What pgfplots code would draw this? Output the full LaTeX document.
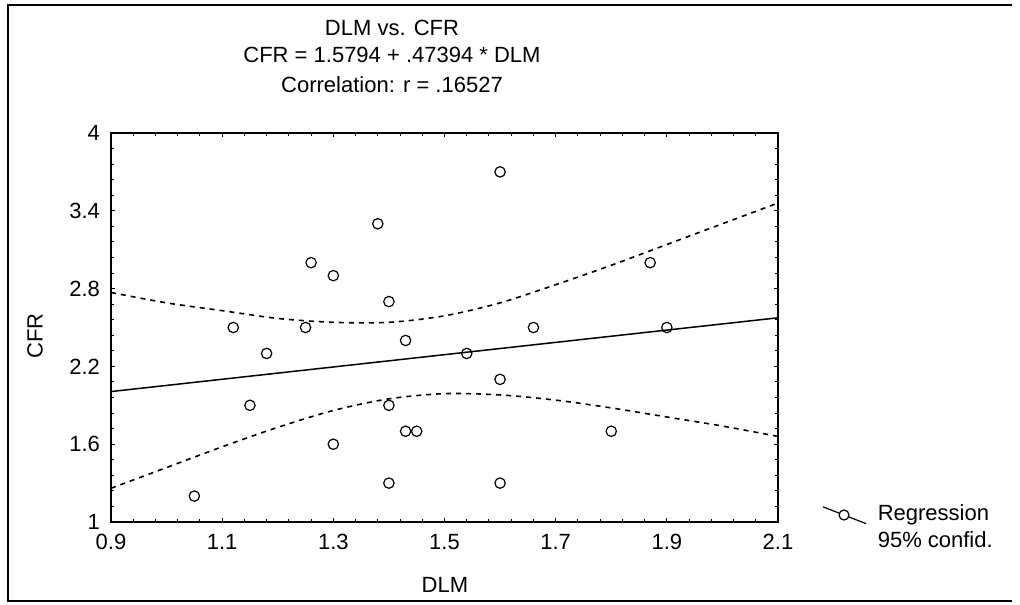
\documentclass[border=0pt]{standalone}
\usepackage{pgfplots}
\pgfplotsset{compat=1.18}
\usepackage{fontspec}
\setmainfont{Liberation Sans}

% scatter data
\pgfplotstableread{
x y
1.05 1.20
1.12 2.50
1.15 1.90
1.18 2.30
1.25 2.50
1.26 3.00
1.30 2.90
1.30 1.60
1.38 3.30
1.40 2.70
1.40 1.90
1.40 1.30
1.43 2.40
1.43 1.70
1.45 1.70
1.54 2.30
1.60 3.70
1.60 2.10
1.60 1.30
1.66 2.50
1.80 1.70
1.87 3.00
1.90 2.50
}\pts

\begin{document}
\begin{tikzpicture}[font=\fontsize{11}{13}\selectfont]
\begin{axis}[
  scale only axis,
  width=333.5pt, height=194.5pt,
  xmin=0.9, xmax=2.1, ymin=1, ymax=4,
  xtick={0.9,1.1,1.3,1.5,1.7,1.9,2.1},
  ytick={1,1.6,2.2,2.8,3.4,4},
  minor tick num=4,
  tick align=inside,
  major tick length=2pt, minor tick length=1.5pt,
  axis line style={line width=0.75pt},
  tick style={line width=0.5pt, black},
  /pgf/number format/assume math mode=true,
  xticklabel style={yshift=-2.5pt},
  yticklabel style={xshift=-2pt},
  xlabel={DLM}, ylabel={CFR},
  xlabel style={at={(axis description cs:0.5007,-0.18)}, anchor=base},
  ylabel style={at={(axis description cs:-0.114,0.478)}, anchor=center},
  clip=false,
  legend style={draw=none, fill=none, inner sep=0pt, row sep=2pt,
    at={(axis description cs:1.066,0.05)}, anchor=north west,
    nodes={inner sep=1pt, anchor=west}},
  legend cell align=left,
]
% regression line CFR = 1.5794 + .47394 * DLM
\addplot[black, line width=0.75pt,
  legend image code/.code={
    \draw[black, line width=0.6pt] (0pt,3.8pt) -- (21.5pt,-4.6pt);
    \draw[black, line width=0.6pt, fill=white] (10.5pt,-0.3pt) circle (2.5pt);
    \path (26pt,0pt);
  }] coordinates {(0.9,2.006) (2.1,2.575)};
\addlegendentry{Regression}
\addlegendimage{empty legend}
\addlegendentry{95\% confid.}

% 95% confidence bands
\addplot[black, line width=0.8pt, dash pattern=on 2.5pt off 2.5pt, smooth, forget plot] coordinates {
  (0.9,2.77) (1.0,2.69) (1.1,2.63) (1.2,2.57) (1.3,2.54) (1.4,2.54) (1.5,2.59)
  (1.6,2.69) (1.7,2.83) (1.8,2.98) (1.9,3.14) (2.0,3.30) (2.1,3.46)};
\addplot[black, line width=0.8pt, dash pattern=on 2.5pt off 2.5pt, smooth, forget plot] coordinates {
  (0.9,1.26) (1.0,1.42) (1.1,1.58) (1.2,1.73) (1.3,1.86) (1.4,1.95) (1.5,1.99)
  (1.6,1.98) (1.7,1.94) (1.8,1.88) (1.9,1.81) (2.0,1.74) (2.1,1.66)};

% observations
\addplot[only marks, mark=o, mark size=2.6pt, mark options={line width=0.6pt, fill=white}, forget plot] table {\pts};

% titles
\node[anchor=base] at (axis description cs:0.4213,1.2494) {DLM vs. CFR};
\node[anchor=base] at (axis description cs:0.4213,1.180) {CFR = 1.5794 + .47394 * DLM};
\node[anchor=base] at (axis description cs:0.4213,1.1054) {Correlation: r = .16527};

% outer frame and page size
\path (axis description cs:-0.1664,-0.2108) rectangle (axis description cs:1.3628,1.3419);
\draw[line width=1pt] (axis description cs:1.3508,-0.2031) -- (axis description cs:-0.1544,-0.2031)
  -- (axis description cs:-0.1544,1.329) -- (axis description cs:1.3508,1.329);
\end{axis}
\end{tikzpicture}
\end{document}
